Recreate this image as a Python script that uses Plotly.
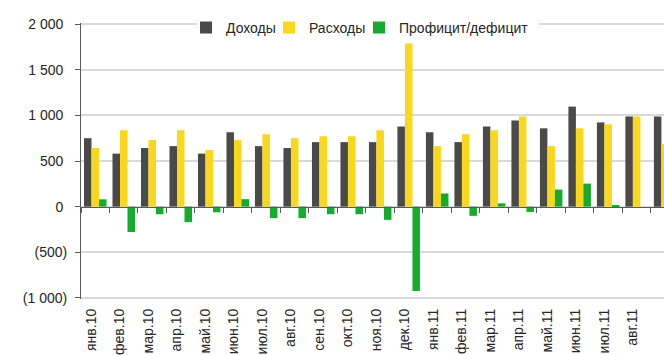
import plotly.graph_objects as go

months = ["янв.10", "фев.10", "мар.10", "апр.10", "май.10", "июн.10", "июл.10",
          "авг.10", "сен.10", "окт.10", "ноя.10", "дек.10", "янв.11", "фев.11",
          "мар.11", "апр.11", "май.11", "июн.11", "июл.11", "авг.11", "сен.11"]
income = [750, 581, 642, 663, 581, 815, 663, 642, 707, 707, 707, 878, 815, 707,
          878, 944, 858, 1096, 923, 988, 988]
expense = [642, 837, 729, 837, 620, 729, 793, 750, 771, 771, 837, 1787, 663, 793,
           837, 988, 663, 858, 902, 988, 685]
balance = [80, -278, -83, -170, -62, 82, -126, -126, -83, -83, -145, -924, 144, -101,
           36, -58, 187, 252, 14, 0, 303]
series_names = ["Доходы", "Расходы", "Профицит/дефицит"]
ytick_vals = [-1000, -500, 0, 500, 1000, 1500, 2000]
ytick_text = ["(1 000)", "(500)", "0\u00a0", "500\u00a0", "1 000\u00a0", "1 500\u00a0", "2 000\u00a0"]

colors = ["#4a4a4a", "#f9d71c", "#15ab2c"]
FONT = "Liberation Sans, Arial, sans-serif"
TXT = "#262626"

idx = list(range(len(months)))
fig = go.Figure()
fig.add_trace(go.Scatter(x=idx, y=[None] * len(idx), xaxis="x", yaxis="y",
                         showlegend=False, hoverinfo="skip", mode="markers"))
legend_ids = ["legend", "legend2", "legend3"]
for name, vals, col, lg in zip(series_names, [income, expense, balance], colors, legend_ids):
    fig.add_trace(go.Bar(x=idx, y=vals, name=name, marker=dict(color=col, line=dict(width=0)),
                         xaxis="x2", yaxis="y", legend=lg))

xr = [-0.5, 19.96]
shift = 0.14
yr = [-1012, 2012]
plot_l, plot_w = 81, 583
plot_t, plot_h = 23, 280


def lx(px):
    return (px - plot_l) / plot_w


def ly(py):
    return 1 - (py - plot_t) / plot_h


leg_common = dict(orientation="h", xanchor="left", y=ly(28), yanchor="middle",
                  bgcolor="rgba(0,0,0,0)", font=dict(size=14, color=TXT), itemwidth=30)

fig.update_layout(
    width=664, height=355,
    margin=dict(l=plot_l, r=0, t=plot_t, b=355 - plot_t - plot_h),
    paper_bgcolor="white", plot_bgcolor="white",
    font=dict(family=FONT, size=14, color=TXT),
    barmode="group", bargap=0.21, bargroupgap=0.0,
    showlegend=True,
    legend=dict(x=lx(186), **leg_common),
    legend2=dict(x=lx(269), **leg_common),
    legend3=dict(x=lx(359), **leg_common),
    shapes=[dict(type="rect", xref="paper", yref="paper", x0=lx(197), x1=lx(539),
                 y0=ly(30), y1=ly(19), fillcolor="white", line=dict(width=0), layer="above")],
    xaxis2=dict(type="linear", range=xr, overlaying="x", anchor="free",
                position=(0 - yr[0]) / (yr[1] - yr[0]),
                showline=True, linecolor="#595959", linewidth=1,
                showgrid=False, zeroline=False,
                tickmode="array", tickvals=[i + 0.5 for i in range(-1, len(months))],
                ticks="outside", ticklen=5, tickcolor="#595959", tickwidth=1,
                showticklabels=False),
    xaxis=dict(type="linear", range=[xr[0] + shift, xr[1] + shift],
               anchor="y", side="bottom", showline=False, showgrid=False, zeroline=False,
               tickmode="array", tickvals=idx, ticktext=months, tickangle=-90,
               ticks="", ticklabelstandoff=6, tickfont=dict(size=14, color=TXT)),
    yaxis=dict(range=yr, tickmode="array", tickvals=ytick_vals, ticktext=ytick_text,
               showgrid=True, gridcolor="#d9d9d9", gridwidth=2,
               zeroline=False, showline=True, linecolor="#595959", linewidth=1,
               ticks="outside", ticklen=5, tickcolor="#595959", ticklabelstandoff=5,
               tickfont=dict(size=14, color=TXT)),
)
fig.write_html("out.html")
